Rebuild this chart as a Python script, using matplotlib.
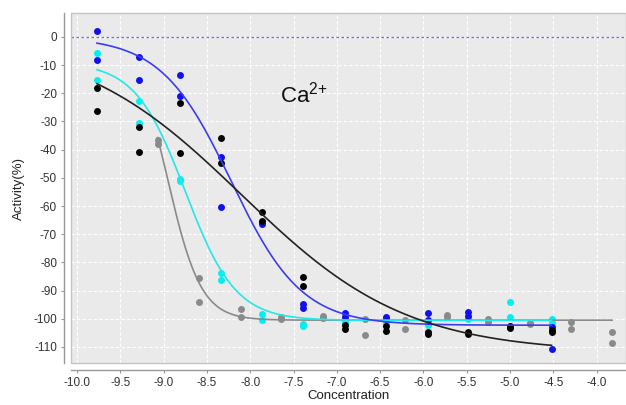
import numpy as np
import matplotlib
matplotlib.use("Agg")
import matplotlib.pyplot as plt
from matplotlib.patches import Rectangle

plt.rcParams["font.family"] = ["Liberation Sans", "DejaVu Sans"]
plt.rcParams["mathtext.fontset"] = "custom"
plt.rcParams["mathtext.rm"] = "Liberation Sans"
plt.rcParams["axes.unicode_minus"] = False

# log concentrations (3-fold dilutions)
conc_main = [-9.77, -9.29, -8.81, -8.34, -7.86, -7.39, -6.91, -6.43, -5.95, -5.48, -5.00, -4.52]
conc_gray = [-9.07, -8.59, -8.11, -7.64, -7.16, -6.68, -6.21, -5.73, -5.25, -4.77, -4.30, -3.82]

# duplicate measurements, activity (%)
black_rep1 = [-18.0, -31.8, -23.6, -35.9, -62.2, -85.2, -102.2, -102.7, -105.3, -104.6, -102.5, -103.9]
black_rep2 = [-26.2, -40.8, -41.3, -44.9, -65.2, -88.2, -103.6, -104.5, -104.8, -105.4, -103.4, -104.7]
blue_rep1 = [2.2, -7.2, -13.5, -42.6, -66.3, -94.8, -97.9, -99.3, -97.9, -97.5, -102.8, -110.9]
blue_rep2 = [-8.3, -15.4, -21.0, -60.5, -65.6, -96.3, -99.5, -100.2, -100.5, -99.0, -103.0, -103.0]
cyan_rep1 = [-5.6, -22.8, -50.3, -83.8, -98.3, -101.8, -100.8, -101.3, -102.1, -100.2, -94.2, -100.2]
cyan_rep2 = [-15.4, -30.7, -51.2, -86.3, -100.5, -102.5, -101.6, -101.8, -101.9, -99.6, -99.4, -101.6]
gray_rep1 = [-36.5, -85.6, -96.5, -99.4, -98.9, -100.1, -100.4, -98.6, -100.1, -101.4, -101.2, -104.8]
gray_rep2 = [-38.0, -94.2, -99.4, -100.1, -99.8, -105.7, -103.6, -99.2, -101.2, -101.8, -103.6, -108.7]

# fitted 4-parameter logistic curves: (top, bottom, logIC50, hill)
black_fit = (0.0, -112.0, -8.10, 0.455)
blue_fit = (0.0, -102.3, -8.22, 1.07)
cyan_fit = (-9.0, -100.6, -8.75, 1.5)
gray_fit = (0.0, -100.5, -8.955, 2.25)


def logistic(x, top, bottom, logic50, hill):
    return bottom + (top - bottom) / (1.0 + 10 ** ((x - logic50) * hill))


fig = plt.figure(figsize=(6.26, 4.05), dpi=100)
ax = fig.add_axes([0.1134, 0.1037, 0.8866, 0.8642])
ax.set_facecolor("#eaeaea")

series = [
    (conc_gray, gray_rep1, gray_rep2, gray_fit, "#8a8a8a", "#8a8a8a"),
    (conc_main, cyan_rep1, cyan_rep2, cyan_fit, "#00f0f0", "#22e8e8"),
    (conc_main, blue_rep1, blue_rep2, blue_fit, "#1010f0", "#3c3cf0"),
    (conc_main, black_rep1, black_rep2, black_fit, "#000000", "#222222"),
]
for xs, r1, r2, fit, dot_col, line_col in series:
    xs = np.array(xs)
    ax.scatter(xs, r1, s=25, color=dot_col, zorder=3, linewidths=0)
    ax.scatter(xs, r2, s=25, color=dot_col, zorder=3, linewidths=0)
    xx = np.linspace(xs.min(), xs.max(), 200)
    ax.plot(xx, logistic(xx, *fit), color=line_col, lw=1.2, zorder=4)

# zero reference line
ax.axhline(0, color="#6a6aff", lw=0.9, ls=(0, (2, 2)), zorder=2)

ax.set_xlim(-10.07, -3.66)
ax.set_ylim(-115.7, 8.5)
ax.set_xticks(np.arange(-10.0, -3.9, 0.5))
ax.set_xticklabels([f"{v:.1f}" for v in np.arange(-10.0, -3.9, 0.5)])
ax.set_yticks(np.arange(-110, 1, 10))

ax.grid(True, color="white", lw=0.8, ls=(0, (3, 2)), zorder=1)
ax.set_axisbelow(True)

for side in ["top", "right"]:
    ax.spines[side].set_visible(False)
for side in ["left", "bottom"]:
    ax.spines[side].set_position(("outward", 5))
    ax.spines[side].set_color("#999999")
    ax.spines[side].set_linewidth(1.0)
ax.add_patch(Rectangle((0, 0), 1, 1, transform=ax.transAxes, fill=False,
                       ec="#c4c4c4", lw=1.0, clip_on=False, zorder=5))

ax.tick_params(axis="both", length=2, color="#999999", labelsize=8.5,
               labelcolor="#333333", pad=3)

ax.set_xlabel("Concentration", fontsize=9.5, color="#222222", labelpad=1)
ax.set_ylabel("Activity(%)", fontsize=9.5, color="#222222", labelpad=6)

ax.text(-7.66, -23.1, r"$\mathregular{Ca^{2{+}}}$", fontsize=16, ha="left",
        va="baseline", color="#111111")

fig.savefig("out.png", dpi=100)
